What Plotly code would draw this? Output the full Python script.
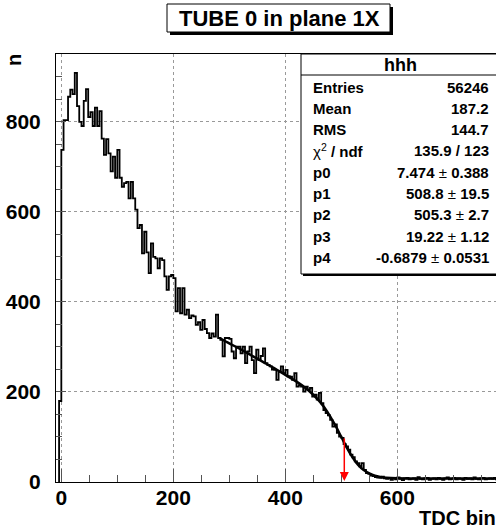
import plotly.graph_objects as go

# ---- histogram "hhh": TDC bins of width 4, first bin starts at -4 ----
bin_start = -4
bin_width = 4
counts = [
    180, 738, 804, 804, 856, 872, 862, 909, 835, 800,   # -4 .. 36
    791, 847, 873, 811, 822, 791, 832, 791, 824, 763,   # 36 .. 76
    727, 762, 730, 690, 723, 676, 738, 676, 656, 664,   # 76 .. 116
    667, 630, 667, 630, 605, 564, 571, 508, 556, 510,   # 116 .. 156
    464, 530, 500, 497, 475, 497, 493, 457, 427, 457,   # 156 .. 196
    460, 453, 379, 431, 375, 431, 372, 383, 364, 370,   # 196 .. 236
    368, 349, 355, 338, 360, 340, 331, 320, 330, 323,   # 236 .. 276
    372, 320, 316, 279, 320, 320, 318, 290, 275, 301,   # 276 .. 316
    301, 286, 301, 264, 290, 301, 271, 242, 294, 271,   # 316 .. 356
    280, 297, 264, 260, 257, 250, 249, 227, 245, 257,   # 356 .. 396
    242, 249, 235, 234, 227, 242, 212, 215, 212, 201,   # 396 .. 436
    212, 205, 209, 190, 194, 183, 198, 175, 160, 153,   # 436 .. 476
    148, 138, 123, 128, 109, 101, 98, 84, 79, 72,       # 476 .. 516
    61, 55, 46, 42, 35, 42, 27, 20, 18, 14,             # 516 .. 556
    13, 11, 10, 9, 12, 8, 7, 9, 5, 8,                   # 556 .. 596
    6, 10, 7, 4, 8, 9, 6, 7, 8, 5,                      # 596 .. 636
    11, 7, 6, 8, 9, 5, 7, 8, 6, 9,                      # 636 .. 676
    7, 5, 8, 10, 6, 7, 9, 6, 8, 7,                      # 676 .. 716
    5, 9, 7, 8, 6, 10, 7, 6, 8, 9,                      # 716 .. 756
    6, 7, 8, 7, 9, 6,                                   # 756 .. 780
]

# ---- fitted curve ----
fit_x = [283, 300, 320, 340, 360, 380, 400, 420, 440, 460, 470, 480, 490,
         500, 510, 520, 530, 540, 550, 560, 570, 580, 600, 620, 650, 700, 780]
fit_y = [320, 308, 295, 281, 267, 253, 238, 223, 205, 181, 165, 146, 124,
         100, 76, 55, 38, 26.5, 19, 14, 11.3, 9.6, 8.1, 7.7, 7.5, 7.5, 7.5]

# red marker at p2
arrow_x = 505.3
arrow_top = 100

title_text = "TUBE 0 in plane 1X"
stats_title = "hhh"
stats_labels = ["Entries", "Mean", "RMS", "χ2 / ndf", "p0", "p1", "p2", "p3", "p4"]
stats_values = ["56246", "187.2", "144.7", "135.9 / 123",
                "7.474 ± 0.388", "508.8 ± 19.5", "505.3 ± 2.7",
                "19.22 ± 1.12", "-0.6879 ± 0.0531"]

W, H = 496, 529
L, R, T, B = 56, 0, 54, 47
FONT = "Liberation Sans, Arial, sans-serif"


def px(x):
    return (x - L) / (W - L - R)


def py(y):
    return (H - B - y) / (H - T - B)


# step outline
xs = [bin_start]
ys = [0]
for i, c in enumerate(counts):
    xs.append(bin_start + i * bin_width)
    ys.append(c)
xs.append(bin_start + len(counts) * bin_width)
ys.append(counts[-1])

fig = go.Figure()
fig.add_trace(go.Scatter(x=xs, y=ys, mode='lines', line_shape='hv',
                         line=dict(color='black', width=1.8), hoverinfo='skip'))
fig.add_trace(go.Scatter(x=fit_x, y=fit_y, mode='lines', line_shape='spline',
                         line=dict(color='black', width=2.5), hoverinfo='skip'))

fig.add_annotation(x=arrow_x, y=2, ax=arrow_x, ay=arrow_top, xref='x', yref='y',
                   axref='x', ayref='y', showarrow=True, arrowhead=2, arrowsize=1.2,
                   arrowwidth=1.5, arrowcolor='red', text='')

shapes = []
# title box with shadow
shapes.append(dict(type='rect', xref='paper', yref='paper', x0=px(170), x1=px(393),
                   y0=py(35), y1=py(7), fillcolor='black', line=dict(width=0), layer='above'))
shapes.append(dict(type='rect', xref='paper', yref='paper', x0=px(167), x1=px(390),
                   y0=py(32), y1=py(4), fillcolor='white', line=dict(color='black', width=1),
                   layer='above'))
# stats box with shadow
shapes.append(dict(type='rect', xref='paper', yref='paper', x0=px(303), x1=px(510),
                   y0=py(276), y1=py(56), fillcolor='black', line=dict(width=0), layer='above'))
shapes.append(dict(type='rect', xref='paper', yref='paper', x0=px(301), x1=px(508),
                   y0=py(274), y1=py(54), fillcolor='white', line=dict(color='black', width=1),
                   layer='above'))
shapes.append(dict(type='line', xref='paper', yref='paper', x0=px(301), x1=px(508),
                   y0=py(75), y1=py(75), line=dict(color='black', width=1), layer='above'))


def text(t, x, y, size, xanchor='center', **kw):
    return dict(text=t, xref='paper', yref='paper', x=px(x), y=py(y), showarrow=False,
                xanchor=xanchor, yanchor='middle', font=dict(size=size, color='black'), **kw)


ann = [text("<b>" + title_text + "</b>", 279, 18, 22),
       text("<b>" + stats_title + "</b>", 400, 65, 18)]
for i, (lab, val) in enumerate(zip(stats_labels, stats_values)):
    yy = 87 + i * 21.3
    if lab.startswith("χ"):
        ltxt = "χ<sup>2</sup><b> / ndf</b>"
    else:
        ltxt = "<b>" + lab + "</b>"
    if "±" in val:
        a, b = val.split(" ± ")
        vtxt = "<b>" + a + " </b>± <b>" + b + "</b>"
    else:
        vtxt = "<b>" + val + "</b>"
    ann.append(text(ltxt, 311, yy, 15, xanchor='left'))
    ann.append(text(vtxt, 491, yy, 15, xanchor='right'))
# axis titles
ann.append(text("<b>n</b>", 14, 60, 20, textangle=-90))
ann.append(text("<b>TDC bin</b>", 498, 518, 20, xanchor='right'))

fig.update_layout(
    width=W, height=H, margin=dict(l=L, r=R, t=T, b=B),
    paper_bgcolor='white', plot_bgcolor='white', showlegend=False,
    font=dict(family=FONT, color='black'),
    shapes=shapes, annotations=fig.layout.annotations + tuple(ann),
)
fig.update_xaxes(range=[-9.5, 776.2], tickvals=[0, 200, 400, 600],
                 ticktext=["<b>0</b>", "<b>200</b>", "<b>400</b>", "<b>600</b>"],
                 ticks='inside', ticklen=13, tickcolor='#555', tickwidth=1,
                 minor=dict(ticks='inside', ticklen=7, dtick=50, tick0=0, tickcolor='#555'),
                 showgrid=True, gridcolor='#999', griddash='dot', gridwidth=1,
                 showline=True, linecolor='black', linewidth=1, mirror=True,
                 zeroline=False, ticklabelstandoff=-3, tickfont=dict(size=21, family=FONT))
fig.update_yaxes(range=[0, 951], tickvals=[0, 200, 400, 600, 800],
                 ticktext=["<b>0</b>", "<b>200</b>", "<b>400</b>", "<b>600</b>", "<b>800</b>"],
                 ticks='inside', ticklen=10, tickcolor='#555', tickwidth=1,
                 minor=dict(ticks='inside', ticklen=6, dtick=50, tick0=0, tickcolor='#555'),
                 showgrid=True, gridcolor='#999', griddash='dot', gridwidth=1,
                 showline=True, linecolor='black', linewidth=1, mirror=True,
                 zeroline=False, ticklabelstandoff=10, tickfont=dict(size=21, family=FONT))

# the page body has a default 8px margin; drop it so the figure sits at the corner
fig.write_html("out.html", config={'displayModeBar': False},
               post_script="document.body.style.margin='0';")
